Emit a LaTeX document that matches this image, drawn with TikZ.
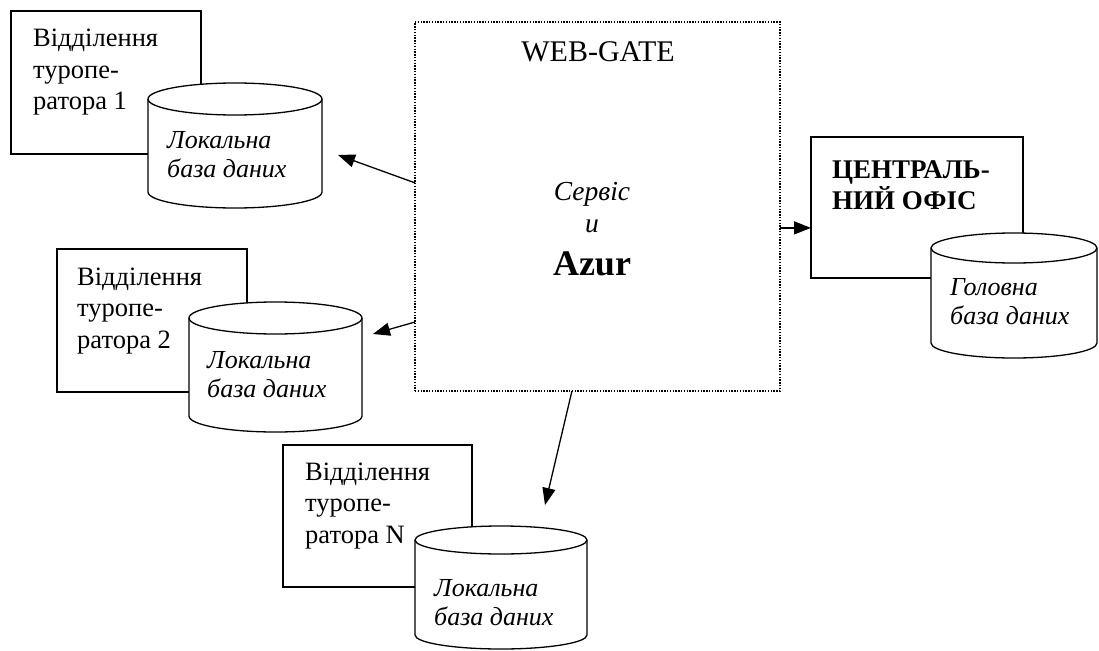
\documentclass[tikz,border=0pt]{standalone}
\usepackage{fontspec}
\setmainfont{Liberation Serif}
\usetikzlibrary{arrows.meta,calc}
\newcommand\lines[1]{\begin{tabular}[t]{@{}l@{}}#1\end{tabular}}
% L R yt yb ry (image coordinates, y downwards)
\newcommand\dbcyl[5]{%
  \draw[cylline, fill=white] (#1,-#3) -- (#1,-#4)
    arc[start angle=180,end angle=360,x radius={(#2-#1)/2},y radius=#5]
    -- (#2,-#3)
    arc[start angle=0,end angle=180,x radius={(#2-#1)/2},y radius=#5] -- cycle;
  \draw[cylline] (#1,-#3)
    arc[start angle=180,end angle=360,x radius={(#2-#1)/2},y radius=#5];
}
\begin{document}
\begin{tikzpicture}[x=1pt,y=1pt,
  boxnode/.style={draw=black, line width=1.3pt, fill=white, inner sep=0pt, outer sep=0pt, anchor=north west},
  cylline/.style={draw=black, line width=1.3pt},
  dotbox/.style={draw=black, line width=1.3pt, dash pattern=on 1.4pt off 1.4pt, inner sep=0pt, outer sep=0pt, anchor=north west},
  arr/.style={-{Triangle[length=17pt,width=13pt]}, line width=1.3pt},
  btext/.style={font=\fontsize{26.5}{31.5}\selectfont, anchor=base west, inner sep=0pt},
  ctext/.style={font=\fontsize{26}{29}\selectfont\itshape, anchor=base west, inner sep=0pt},
  otext/.style={font=\fontsize{27}{28.5}\selectfont\bfseries, anchor=base west, inner sep=0pt}]
\useasboundingbox (0,0) rectangle (1099,-650);

% ---- branch 1
\node[boxnode, minimum width=190pt, minimum height=143pt] (b1) at (11,-11) {};
\dbcyl{148}{322}{99}{192}{16}
\node[btext] (b1t) at (33,-47) {\lines{Відділення\\туропе-\\ратора 1}};
\node[ctext] (c1t) at (167,-148) {\lines{Локальна\\база даних}};

% ---- branch 2
\node[boxnode, minimum width=190pt, minimum height=143pt] (b2) at (57,-249) {};
\dbcyl{189}{362}{318}{416}{16}
\node[btext] (b2t) at (77,-285) {\lines{Відділення\\туропе-\\ратора 2}};
\node[ctext] (c2t) at (207,-368) {\lines{Локальна\\база даних}};

% ---- branch N
\node[boxnode, minimum width=189pt, minimum height=142pt] (bn) at (283,-445) {};
\dbcyl{415}{587}{540}{635}{14}
\node[btext] (bnt) at (305,-480) {\lines{Відділення\\туропе-\\ратора N}};
\node[ctext] (cnt) at (434,-596) {\lines{Локальна\\база даних}};

% ---- central office
\node[boxnode, minimum width=212pt, minimum height=141pt] (co) at (811,-137) {};
\dbcyl{931}{1097}{248}{343}{15}
\node[otext] (cot) at (832,-178) {\lines{ЦЕНТРАЛЬ-\\НИЙ ОФІС}};
\node[ctext] (cct) at (950,-295) {\lines{Головна\\база даних}};

% ---- web gate
\node[dotbox, minimum width=365pt, minimum height=369pt] (wg) at (415,-22) {};
\node[font=\fontsize{30}{34}\selectfont, anchor=base, inner sep=0pt] (wgt) at (598,-62) {WEB-GATE};
\node[font=\fontsize{27.5}{32}\selectfont\itshape, anchor=base, inner sep=0pt] (svc) at (592,-200) {Сервіс};
\node[font=\fontsize{27.5}{32}\selectfont\itshape, anchor=base, inner sep=0pt] (svi) at (592,-232) {и};
\node[font=\fontsize{36}{42}\selectfont\bfseries, anchor=base, inner sep=0pt] (azur) at (592,-275) {Azur};

% ---- connectors
\coordinate (t1) at (338,-155);
\coordinate (t2) at (373,-334);
\coordinate (t3) at (545,-505);
\draw[arr] ($(wg.north west)!0.436!(wg.south west)$) -- (t1);
\draw[arr] ($(wg.north west)!0.813!(wg.south west)$) -- (t2);
\draw[arr] ($(wg.south west)!0.430!(wg.south east)$) -- (t3);
\draw[arr] ($(wg.north east)!0.558!(wg.south east)$) coordinate (s4) -- (co.west |- s4);
\end{tikzpicture}
\end{document}
